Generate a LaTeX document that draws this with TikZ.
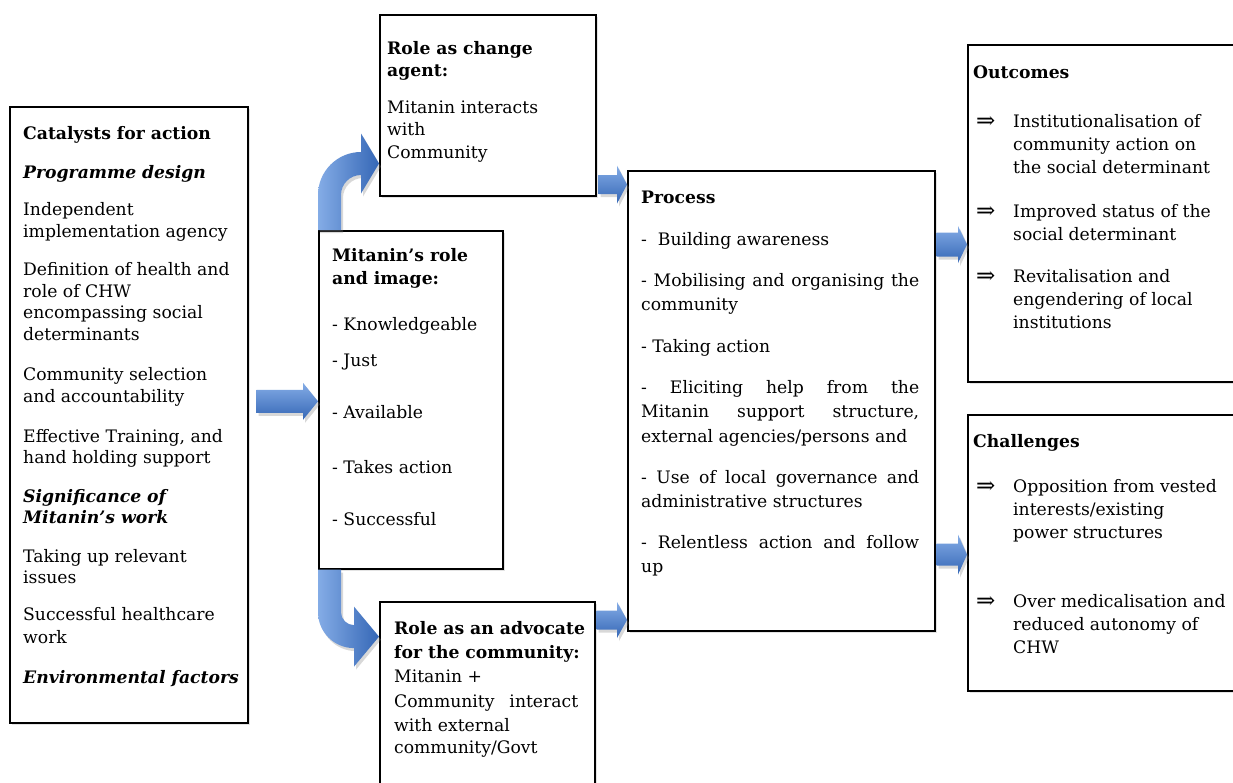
\documentclass[tikz,border=0pt]{standalone}
\usepackage{fontspec}
\setmainfont{DejaVu Serif}
\usetikzlibrary{calc,shadows}
\definecolor{arrlight}{HTML}{84ACE6}
\definecolor{arrdark}{HTML}{3567B6}
\newcommand\mysz{\fontsize{17.2}{21}\selectfont}
\newcommand\blockarr[5]{\path[harr] ($(#1)+(0,-#3)$) -- ($(#2)+(-#5,-#3)$) -- ($(#2)+(-#5,-#4)$) -- (#2) -- ($(#2)+(-#5,#4)$) -- ($(#2)+(-#5,#3)$) -- ($(#1)+(0,#3)$) -- cycle;}
\begin{document}
\begin{tikzpicture}[x=1pt,y=-1pt,
  box/.style={draw=black, line width=1.6pt, fill=white, rectangle, anchor=north west, inner sep=0pt,
    drop shadow={opacity=0.22, shadow xshift=2pt, shadow yshift=-2.5pt}},
  tl/.style={anchor=base west, inner sep=0pt, font=\mysz},
  imp/.style={anchor=base west, inner sep=0pt, font=\fontsize{23}{23}\selectfont},
  harr/.style={top color=arrlight, bottom color=arrdark, draw=none,
    drop shadow={opacity=0.3, shadow xshift=2pt, shadow yshift=-3pt}},
  carr/.style={left color=arrlight, right color=arrdark, draw=none,
    drop shadow={opacity=0.3, shadow xshift=2pt, shadow yshift=-3pt}}]
\useasboundingbox (0,0) rectangle (1233,782);
\fill[white] (0,0) rectangle (1233,782);

% boxes
\node[box, minimum width=238pt, minimum height=616pt] (cat) at (9,106) {};
\node[box, minimum width=184pt, minimum height=338pt] (mit) at (318,230) {};
\node[box, minimum width=216pt, minimum height=181pt] (chg) at (379,14) {};
\node[box, minimum width=215pt, minimum height=199pt] (adv) at (379,601) {};
\node[box, minimum width=307pt, minimum height=460pt] (proc) at (627,170) {};
\node[box, minimum width=273pt, minimum height=337pt] (out) at (967,44) {};
\node[box, minimum width=273pt, minimum height=276pt] (chal) at (967,414) {};

% straight block arrows
\coordinate (a1s) at ($(cat.east)+(8,-13.5)$);
\coordinate (a1e) at (mit.west |- a1s);
\blockarr{a1s}{a1e}{11.5}{18.5}{15}
\coordinate (a2s) at ($(chg.south east)+(2,-12)$);
\coordinate (a2e) at (proc.west |- a2s);
\blockarr{a2s}{a2e}{9.5}{19}{10}
\coordinate (a3s) at ($(adv.north east)+(1,19)$);
\coordinate (a3e) at (proc.west |- a3s);
\blockarr{a3s}{a3e}{9.5}{18}{10}
\coordinate (a4s) at ($(proc.north east)+(1,74.5)$);
\coordinate (a4e) at (out.west |- a4s);
\blockarr{a4s}{a4e}{12}{18.5}{9}
\coordinate (a5s) at ($(proc.south east)+(1,-77)$);
\coordinate (a5e) at (chal.west |- a5s);
\blockarr{a5s}{a5e}{11}{20}{9}

% curved arrows
\begin{scope}[shift={(mit.north west)}]
\path[carr] (0,0) -- (0,-35) .. controls (0,-58.75) and (19.25,-78) .. (43,-78) -- (43,-96.5) -- (61,-66.5) -- (43,-36.5) -- (43,-55) .. controls (31.95,-55) and (23,-46.05) .. (23,-35) -- (23,0) -- cycle;
\end{scope}
\begin{scope}[shift={(mit.south west)}]
\path[carr] (0,0) -- (0,42.5) .. controls (0,62.4) and (16.1,78.5) .. (36,78.5) -- (36,97) -- (61,67) -- (36,37) -- (36,55.5) .. controls (28.8,55.5) and (23,49.7) .. (23,42.5) -- (23,0) -- cycle;
\end{scope}

% texts: catalysts
\foreach \yy/\tx [count=\i] in {
 139/{\bfseries Catalysts for action},
 178/{\bfseries\itshape Programme design},
 215/{Independent},
 237/{implementation agency},
 275/{Definition of health and},
 297/{role of CHW},
 318/{encompassing social},
 340/{determinants},
 380/{Community selection},
 402/{and accountability},
 442/{Effective Training, and},
 463/{hand holding support},
 502/{\bfseries\itshape Significance of},
 523/{\bfseries\itshape Mitanin’s work},
 562/{Taking up relevant},
 583/{issues},
 620/{Successful healthcare},
 643/{work},
 683/{\bfseries\itshape Environmental factors}}
 \node[tl] (catT\i) at (23,\yy) {\tx};

% change agent
\foreach \yy/\tx [count=\i] in {
 54/{\bfseries Role as change},
 76/{\bfseries agent:},
 113/{Mitanin interacts},
 135/{with},
 158/{Community}}
 \node[tl] (chgT\i) at (387,\yy) {\tx};

% Mitanin role
\foreach \yy/\tx [count=\i] in {
 261/{\bfseries Mitanin’s role},
 284/{\bfseries and image:},
 330/{- Knowledgeable},
 366/{- Just},
 418/{- Available},
 473/{- Takes action},
 525/{- Successful}}
 \node[tl] (mitT\i) at (332,\yy) {\tx};

% advocate
\foreach \yy/\tx [count=\i] in {
 634/{\bfseries Role as an advocate},
 658/{\bfseries for the community:},
 682/{Mitanin +},
 707/{\makebox[184pt][s]{Community interact}},
 731/{with external},
 753/{community/Govt}}
 \node[tl] (advT\i) at (394,\yy) {\tx};

% process
\foreach \yy/\tx [count=\i] in {
 203/{\bfseries Process},
 245/{-\ \ Building awareness},
 286/{\makebox[278pt][s]{- Mobilising and organising the}},
 310/{community},
 352/{- Taking action},
 393/{\makebox[278pt][s]{- Eliciting help from the}},
 417/{\makebox[278pt][s]{Mitanin support structure,}},
 442/{external agencies/persons and},
 483/{\makebox[278pt][s]{- Use of local governance and}},
 507/{administrative structures},
 548/{\makebox[278pt][s]{- Relentless action and follow}},
 572/{up}}
 \node[tl] (procT\i) at (641,\yy) {\tx};

% outcomes
\node[tl, font=\mysz\bfseries] (outH) at (973,78) {Outcomes};
\foreach \yy/\tx [count=\i] in {
 127/{Institutionalisation of},
 150/{community action on},
 173/{the social determinant},
 217/{Improved status of the},
 240/{social determinant},
 282/{Revitalisation and},
 305/{engendering of local},
 328/{institutions}}
 \node[tl] (outT\i) at (1013,\yy) {\tx};

% challenges
\node[tl, font=\mysz\bfseries] (chalH) at (973,447) {Challenges};
\foreach \yy/\tx [count=\i] in {
 492/{Opposition from vested},
 515/{interests/existing},
 538/{power structures},
 607/{Over medicalisation and},
 630/{reduced autonomy of},
 653/{CHW}}
 \node[tl] (chalT\i) at (1013,\yy) {\tx};

% implication arrows
\foreach \yy [count=\i] in {127,217,282,492,607}
 \node[imp] (imp\i) at (976,\yy+1) {⇒};
\end{tikzpicture}
\end{document}
